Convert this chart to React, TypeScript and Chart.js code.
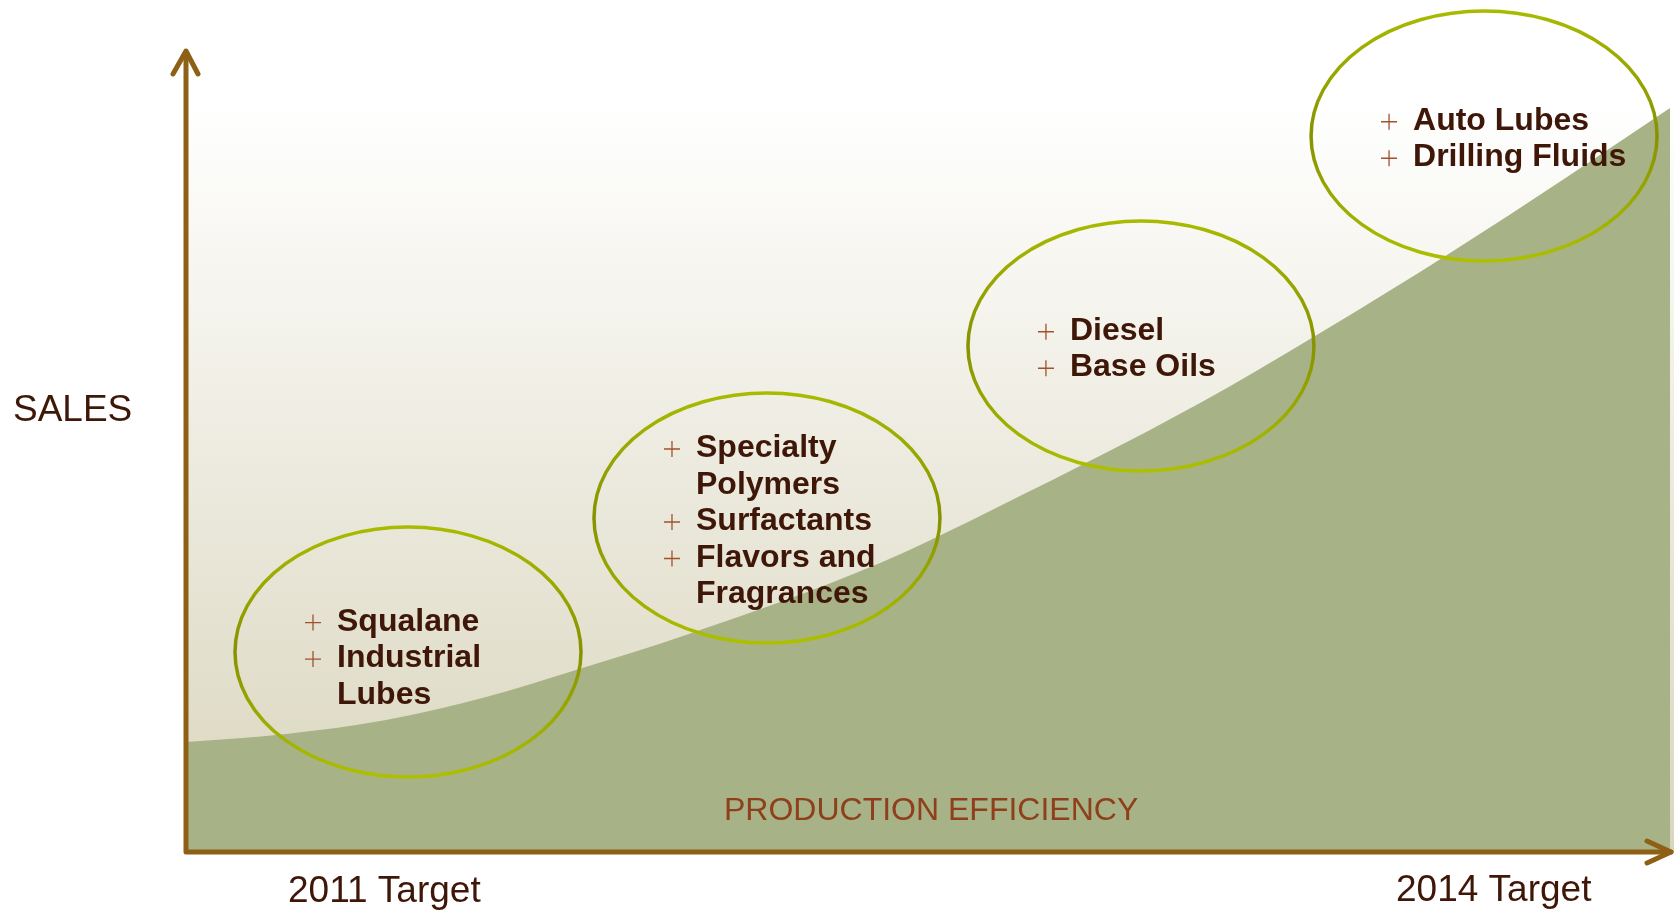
import React, { useEffect, useRef } from "react";
import { Chart, registerables } from "chart.js";

Chart.register(...registerables);

// Curve (sales vs production efficiency), in data units 0..100
const curveX = [0, 6.74, 13.48, 20.22, 26.28, 33.69, 46.77, 54.85, 68.33, 76.42, 85.18, 93.06, 100];
const curveY = [12.91, 13.85, 15.49, 18.19, 21.36, 25.47, 33.92, 40.61, 52.7, 60.92, 70.31, 79.23, 87.32];

// Product groups: ellipse centres in data units and their lines
const groupX = [14.96, 39.15, 64.35, 87.47];
const groupY = [23.47, 39.2, 59.39, 84.04];
const groupLines: { text: string; bullet: boolean }[][] = [
  [
    { text: "Squalane", bullet: true },
    { text: "Industrial", bullet: true },
    { text: "Lubes", bullet: false },
  ],
  [
    { text: "Specialty", bullet: true },
    { text: "Polymers", bullet: false },
    { text: "Surfactants", bullet: true },
    { text: "Flavors and", bullet: true },
    { text: "Fragrances", bullet: false },
  ],
  [
    { text: "Diesel", bullet: true },
    { text: "Base Oils", bullet: true },
  ],
  [
    { text: "Auto Lubes", bullet: true },
    { text: "Drilling Fluids", bullet: true },
  ],
];

const yAxisTitle = "SALES";
const xTickLabels = ["2011 Target", "2014 Target"];
const areaLabel = "PRODUCTION EFFICIENCY";

const W = 1675;
const H = 910;
const AXIS = "#8d6015";
const TEXT = "#3f1708";

const diagramPlugin = {
  id: "diagram",
  beforeDatasetsDraw(chart: any) {
    const ctx = chart.ctx as CanvasRenderingContext2D;
    const a = chart.chartArea;
    ctx.save();
    const g = ctx.createLinearGradient(0, 0, 0, a.bottom);
    g.addColorStop(0, "#ffffff");
    g.addColorStop(0.12, "#ffffff");
    g.addColorStop(1, "#d9d5bd");
    ctx.fillStyle = g;
    ctx.fillRect(a.left, 0, a.right - a.left + 4, a.bottom);
    ctx.restore();
  },
  afterDatasetsDraw(chart: any) {
    const ctx = chart.ctx as CanvasRenderingContext2D;
    const a = chart.chartArea;
    const xs = chart.scales.x;
    const ys = chart.scales.y;
    ctx.save();

    // Axes
    ctx.strokeStyle = AXIS;
    ctx.lineWidth = 5;
    ctx.lineCap = "round";
    ctx.lineJoin = "round";
    ctx.beginPath();
    ctx.moveTo(a.left, 52);
    ctx.lineTo(a.left, a.bottom);
    ctx.lineTo(W - 4, a.bottom);
    ctx.stroke();
    ctx.beginPath();
    ctx.moveTo(a.left - 13, 74);
    ctx.lineTo(a.left, 51);
    ctx.lineTo(a.left + 12, 74);
    ctx.stroke();
    ctx.beginPath();
    ctx.moveTo(W - 28, a.bottom - 11);
    ctx.lineTo(W - 4, a.bottom);
    ctx.lineTo(W - 28, a.bottom + 11);
    ctx.stroke();

    // Ellipses and their texts
    const rx = 173;
    const ry = 125;
    for (let i = 0; i < groupX.length; i++) {
      const cx = xs.getPixelForValue(groupX[i]);
      const cy = ys.getPixelForValue(groupY[i]);
      const eg = ctx.createLinearGradient(0, cy - ry, 0, cy + ry);
      eg.addColorStop(0, "#a8bb00");
      eg.addColorStop(0.5, "#869200");
      eg.addColorStop(1, "#acc000");
      ctx.strokeStyle = eg;
      ctx.lineWidth = 3.5;
      ctx.beginPath();
      ctx.ellipse(cx, cy, rx, ry, 0, 0, Math.PI * 2);
      ctx.stroke();

      const lines = groupLines[i];
      const step = 36.5;
      const first = cy + 12 - ((lines.length - 1) * step) / 2 + (lines.length === 3 ? 3 : 0);
      ctx.font = "bold 32px 'Liberation Sans', Arial, sans-serif";
      ctx.textBaseline = "alphabetic";
      ctx.textAlign = "left";
      lines.forEach((ln, j) => {
        const by = first + j * step;
        ctx.fillStyle = TEXT;
        ctx.fillText(ln.text, cx - 71, by);
        if (ln.bullet) {
          const px = cx - 95;
          const py = by - 8;
          ctx.strokeStyle = "#a0522d";
          ctx.lineWidth = 1.3;
          ctx.lineCap = "butt";
          ctx.beginPath();
          ctx.moveTo(px - 8, py);
          ctx.lineTo(px + 8, py);
          ctx.moveTo(px, py - 8);
          ctx.lineTo(px, py + 8);
          ctx.stroke();
        }
      });
    }

    // Labels
    ctx.fillStyle = TEXT;
    ctx.font = "37px 'Liberation Sans', Arial, sans-serif";
    ctx.textAlign = "left";
    ctx.fillText(yAxisTitle, 13, 421);
    ctx.fillText(xTickLabels[0], 288, 902);
    ctx.fillText(xTickLabels[1], 1396, 901);
    ctx.fillStyle = "#8f3f1c";
    ctx.font = "32px 'Liberation Sans', Arial, sans-serif";
    ctx.fillText(areaLabel, 724, 820);

    ctx.restore();
  },
};

export default function App() {
  const ref = useRef<HTMLCanvasElement | null>(null);
  useEffect(() => {
    document.body.style.margin = "0";
    const canvas = ref.current!;
    const chart = new Chart(canvas, {
      type: "line",
      data: {
        datasets: [
          {
            data: curveX.map((x, i) => ({ x, y: curveY[i] })),
            fill: "origin",
            backgroundColor: "#a7b386",
            borderWidth: 0,
            pointRadius: 0,
            cubicInterpolationMode: "monotone",
          },
        ],
      },
      options: {
        responsive: false,
        animation: false,
        layout: { padding: { left: 186, right: 5, top: 0, bottom: 58 } },
        scales: {
          x: { type: "linear", min: 0, max: 100, display: false },
          y: { type: "linear", min: 0, max: 100, display: false },
        },
        plugins: { legend: { display: false }, tooltip: { enabled: false } },
      },
      plugins: [diagramPlugin],
    } as any);
    return () => chart.destroy();
  }, []);
  return (
    <div style={{ width: W, height: H, background: "#ffffff" }}>
      <canvas ref={ref} width={W} height={H} style={{ display: "block" }} />
    </div>
  );
}
